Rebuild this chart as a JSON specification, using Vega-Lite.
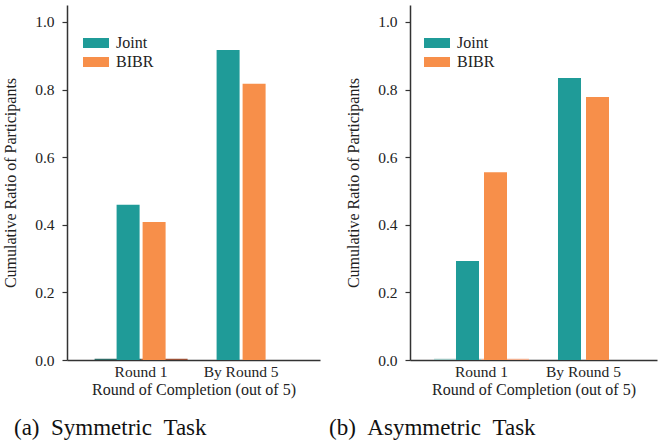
{
  "$schema": "https://vega.github.io/schema/vega-lite/v6.json",
  "bounds": "flush",
  "spacing": 90,
  "padding": {"left": 2, "top": 5, "right": 1, "bottom": 0},
  "config": {
    "font": "Liberation Serif",
    "view": {"stroke": null}
  },
  "datasets": {
    "main": [
      {"task": "a", "round": "Round 1", "series": "Joint", "value": 0.459},
      {"task": "a", "round": "Round 1", "series": "BIBR", "value": 0.408},
      {"task": "a", "round": "By Round 5", "series": "Joint", "value": 0.917},
      {"task": "a", "round": "By Round 5", "series": "BIBR", "value": 0.817},
      {"task": "b", "round": "Round 1", "series": "Joint", "value": 0.293},
      {"task": "b", "round": "Round 1", "series": "BIBR", "value": 0.555},
      {"task": "b", "round": "By Round 5", "series": "Joint", "value": 0.834},
      {"task": "b", "round": "By Round 5", "series": "BIBR", "value": 0.778}
    ],
    "tiny": [
      {"task": "a", "round": "Round 1", "series": "Joint0", "value": 0.004},
      {"task": "a", "round": "Round 1", "series": "BIBR0", "value": 0.004},
      {"task": "b", "round": "Round 1", "series": "Joint0", "value": 0.004},
      {"task": "b", "round": "Round 1", "series": "BIBR0", "value": 0.004}
    ]
  },
  "hconcat": [
    {
      "width": 253,
      "height": 355,
      "title": {"text": "(a)\u2002Symmetric\u2002Task", "orient": "bottom", "anchor": "start", "frame": "group", "dx": -53, "offset": 37, "baseline": "alphabetic", "fontSize": 23, "fontWeight": "normal", "font": "Liberation Serif", "color": "#111"},
      "encoding": {
        "x": {"field": "round", "type": "nominal", "sort": ["Round 1", "By Round 5"],
          "scale": {"paddingInner": 0.07, "paddingOuter": 0.3, "align": 0.46},
          "axis": {"title": "Round of Completion (out of 5)", "labelAngle": 0, "ticks": false, "labelPadding": 4, "titlePadding": 2,
            "labelFont": "Liberation Serif", "titleFont": "Liberation Serif", "labelFontSize": 15.5, "titleFontSize": 16, "titleFontWeight": "normal", "labelColor": "#222", "titleColor": "#222", "grid": false, "domainColor": "#333", "domainWidth": 1.5,
            "encode": {
              "labels": {"update": {"font": {"value": "Liberation Serif"}, "fontSize": {"value": 15.5}, "fill": {"value": "#222"}}},
              "title": {"update": {"font": {"value": "Liberation Serif"}, "fontSize": {"value": 16}, "fontWeight": {"value": "normal"}, "fill": {"value": "#222"}}}
            }}},
        "y": {"field": "value", "type": "quantitative",
          "scale": {"domain": [0, 1.05], "nice": false},
          "axis": {"title": "Cumulative Ratio of Participants", "values": [0, 0.2, 0.4, 0.6, 0.8, 1.0], "format": ".1f", "tickSize": 5, "labelPadding": 8, "titlePadding": 16,
            "labelFont": "Liberation Serif", "titleFont": "Liberation Serif", "labelFontSize": 15.5, "titleFontSize": 16, "titleFontWeight": "normal", "labelColor": "#222", "titleColor": "#222", "grid": false, "domainColor": "#333", "domainWidth": 1.5, "tickColor": "#333", "tickWidth": 1.2,
            "encode": {
              "labels": {"update": {"font": {"value": "Liberation Serif"}, "fontSize": {"value": 15.5}, "fill": {"value": "#222"}}},
              "title": {"update": {"font": {"value": "Liberation Serif"}, "fontSize": {"value": 16}, "fontWeight": {"value": "normal"}, "fill": {"value": "#222"}}}
            }}}
      },
      "layer": [
        {
          "data": {"name": "tiny"},
          "transform": [{"filter": "datum.task === 'a'"}],
          "mark": {"type": "bar"},
          "encoding": {
            "xOffset": {"field": "series", "type": "nominal", "sort": ["Joint0", "BIBR0"], "scale": {"paddingInner": 0, "paddingOuter": 0}},
            "color": {"field": "series", "type": "nominal", "scale": {"domain": ["Joint0", "BIBR0"], "range": ["#2e6a65", "#9a5036"]}, "legend": null}
          }
        },
        {
          "data": {"name": "main"},
          "transform": [{"filter": "datum.task === 'a'"}],
          "mark": {"type": "bar"},
          "encoding": {
            "xOffset": {"field": "series", "type": "nominal", "sort": ["Joint", "BIBR"], "scale": {"paddingInner": 0.1154, "paddingOuter": 0.846}},
            "color": {"field": "series", "type": "nominal", "sort": ["Joint", "BIBR"],
              "scale": {"domain": ["Joint", "BIBR"], "range": ["#1f9b98", "#f78f4a"]},
              "legend": {"title": null, "orient": "none", "legendX": 21, "legendY": 30,
                "labelFont": "Liberation Serif", "labelFontSize": 16, "labelColor": "#222", "padding": 0, "rowPadding": 3,
                "symbolType": "M-2.6,-1H2.6V1H-2.6Z", "symbolSize": 100, "symbolStrokeWidth": 0, "symbolOpacity": 1, "labelOffset": 12,
                "encode": {"labels": {"update": {"font": {"value": "Liberation Serif"}, "fontSize": {"value": 16}, "fill": {"value": "#222"}}}}}}
          }
        }
      ],
      "resolve": {"scale": {"xOffset": "independent", "color": "independent"}}
    },
    {
      "width": 247,
      "height": 355,
      "title": {"text": "(b)\u2002Asymmetric\u2002Task", "orient": "bottom", "anchor": "start", "frame": "group", "dx": -81, "offset": 37, "baseline": "alphabetic", "fontSize": 23, "fontWeight": "normal", "font": "Liberation Serif", "color": "#111"},
      "encoding": {
        "x": {"field": "round", "type": "nominal", "sort": ["Round 1", "By Round 5"],
          "scale": {"paddingInner": 0.07, "paddingOuter": 0.2458, "align": 0.48},
          "axis": {"title": "Round of Completion (out of 5)", "labelAngle": 0, "ticks": false, "labelPadding": 4, "titlePadding": 2,
            "labelFont": "Liberation Serif", "titleFont": "Liberation Serif", "labelFontSize": 15.5, "titleFontSize": 16, "titleFontWeight": "normal", "labelColor": "#222", "titleColor": "#222", "grid": false, "domainColor": "#333", "domainWidth": 1.5,
            "encode": {
              "labels": {"update": {"font": {"value": "Liberation Serif"}, "fontSize": {"value": 15.5}, "fill": {"value": "#222"}}},
              "title": {"update": {"font": {"value": "Liberation Serif"}, "fontSize": {"value": 16}, "fontWeight": {"value": "normal"}, "fill": {"value": "#222"}}}
            }}},
        "y": {"field": "value", "type": "quantitative",
          "scale": {"domain": [0, 1.05], "nice": false},
          "axis": {"title": "Cumulative Ratio of Participants", "values": [0, 0.2, 0.4, 0.6, 0.8, 1.0], "format": ".1f", "tickSize": 5, "labelPadding": 8, "titlePadding": 16,
            "labelFont": "Liberation Serif", "titleFont": "Liberation Serif", "labelFontSize": 15.5, "titleFontSize": 16, "titleFontWeight": "normal", "labelColor": "#222", "titleColor": "#222", "grid": false, "domainColor": "#333", "domainWidth": 1.5, "tickColor": "#333", "tickWidth": 1.2,
            "encode": {
              "labels": {"update": {"font": {"value": "Liberation Serif"}, "fontSize": {"value": 15.5}, "fill": {"value": "#222"}}},
              "title": {"update": {"font": {"value": "Liberation Serif"}, "fontSize": {"value": 16}, "fontWeight": {"value": "normal"}, "fill": {"value": "#222"}}}
            }}}
      },
      "layer": [
        {
          "data": {"name": "tiny"},
          "transform": [{"filter": "datum.task === 'b'"}],
          "mark": {"type": "bar"},
          "encoding": {
            "xOffset": {"field": "series", "type": "nominal", "sort": ["Joint0", "BIBR0"], "scale": {"paddingInner": 0, "paddingOuter": 0}},
            "color": {"field": "series", "type": "nominal", "scale": {"domain": ["Joint0", "BIBR0"], "range": ["#9cc4c0", "#f2b090"]}, "legend": null}
          }
        },
        {
          "data": {"name": "main"},
          "transform": [{"filter": "datum.task === 'b'"}],
          "mark": {"type": "bar"},
          "encoding": {
            "xOffset": {"field": "series", "type": "nominal", "sort": ["Joint", "BIBR"], "scale": {"paddingInner": 0.1786, "paddingOuter": 0.783}},
            "color": {"field": "series", "type": "nominal", "sort": ["Joint", "BIBR"],
              "scale": {"domain": ["Joint", "BIBR"], "range": ["#1f9b98", "#f78f4a"]},
              "legend": {"title": null, "orient": "none", "legendX": 19, "legendY": 30,
                "labelFont": "Liberation Serif", "labelFontSize": 16, "labelColor": "#222", "padding": 0, "rowPadding": 3,
                "symbolType": "M-2.6,-1H2.6V1H-2.6Z", "symbolSize": 100, "symbolStrokeWidth": 0, "symbolOpacity": 1, "labelOffset": 12,
                "encode": {"labels": {"update": {"font": {"value": "Liberation Serif"}, "fontSize": {"value": 16}, "fill": {"value": "#222"}}}}}}
          }
        }
      ],
      "resolve": {"scale": {"xOffset": "independent", "color": "independent"}}
    }
  ]
}
